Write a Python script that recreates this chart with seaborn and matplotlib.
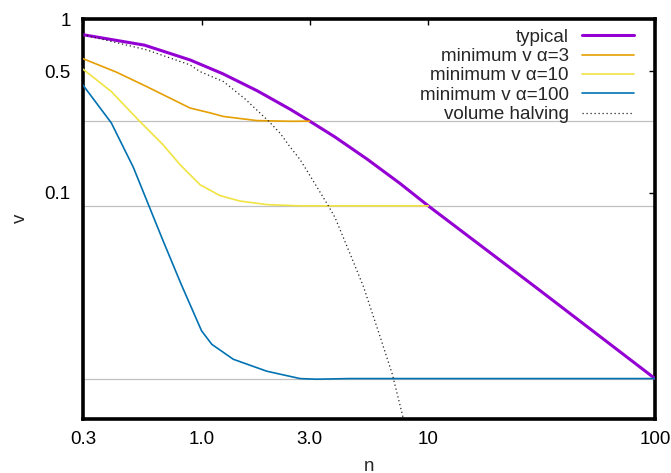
import matplotlib
matplotlib.use("Agg")
import matplotlib.pyplot as plt
import seaborn as sns
import pandas as pd

# ---------------- data ----------------
n_typical = [0.3, 0.56, 0.89, 1.24, 1.76, 2.46, 3.0, 3.88, 5.37, 7.5, 10, 30, 100]
v_typical = [0.812, 0.707, 0.581, 0.484, 0.386, 0.302, 0.258, 0.209, 0.156, 0.113,
             0.0839, 0.0283, 0.00849]

n_alpha3 = [0.3, 0.42, 0.573, 0.89, 1.09, 1.25, 1.75, 2.46, 3.0]
v_alpha3 = [0.591, 0.495, 0.408, 0.307, 0.288, 0.2745, 0.260, 0.2575, 0.258]

n_alpha10 = [0.3, 0.4, 0.525, 0.676, 0.804, 0.985, 1.206, 1.478, 1.94, 2.72, 10]
v_alpha10 = [0.514, 0.382, 0.263, 0.1888, 0.1448, 0.111, 0.0961, 0.0894, 0.0853,
             0.0839, 0.0839]

n_alpha100 = [0.3, 0.4, 0.5, 0.673, 0.81, 1.0, 1.11, 1.38, 1.94, 2.72, 3.22, 4.5, 100]
v_alpha100 = [0.416, 0.252, 0.140, 0.0537, 0.030, 0.0160, 0.01337, 0.01097, 0.00936,
              0.00849, 0.00842, 0.00849, 0.00849]

n_halving = [0.3, 0.573, 0.89, 0.984, 1.25, 1.555, 1.97, 2.22, 2.46, 2.72, 3.0, 3.62,
             3.88, 4.5, 5.17, 6.12, 6.94, 7.71, 8.0]
v_halving = [0.812, 0.664, 0.544, 0.498, 0.436, 0.3465, 0.259, 0.220, 0.183, 0.155,
             0.126, 0.0842, 0.0718, 0.045, 0.0289, 0.0149, 0.0090, 0.00518, 0.0042]

alphas = [3, 10, 100]
# horizontal reference levels: typical v at n = alpha
floor_levels = [v_typical[n_typical.index(a)] for a in alphas]

x_ticks = [0.3, 1, 3, 10, 100]
x_ticklabels = ["0.3", "1.0", "3.0", "10", "100"]
y_ticks = [1, 0.5, 0.1]
y_ticklabels = ["1", "0.5", "0.1"]

labels = ["typical", "minimum v \u03b1=3", "minimum v \u03b1=10",
          "minimum v \u03b1=100", "volume halving"]

# ---------------- style ----------------
sns.set_theme(style="white")
plt.rcParams["font.family"] = ["Liberation Sans", "DejaVu Sans"]
plt.rcParams["font.size"] = 13.5
plt.rcParams["axes.linewidth"] = 2.6

fig = plt.figure(figsize=(6.71, 4.73), dpi=100)
ax = fig.add_axes([83 / 671, 1 - 418.5 / 473, 572 / 671, 399.5 / 473])

# reference levels
for lv in floor_levels:
    ax.axhline(lv, color="#c0c0c0", lw=0.9, zorder=1)

series = [
    (n_typical, v_typical, "#9400d3", 2.2, "-"),
    (n_alpha3, v_alpha3, "#e69f00", 1.2, "-"),
    (n_alpha10, v_alpha10, "#f0e442", 1.2, "-"),
    (n_alpha100, v_alpha100, "#0072b2", 1.2, "-"),
    (n_halving, v_halving, "#222222", 0.9, (0, (1, 2.2))),
]
for (xs, ys, col, lw, ls), lab in zip(series, labels):
    df = pd.DataFrame({"n": xs, "v": ys})
    sns.lineplot(data=df, x="n", y="v", ax=ax, color=col, linewidth=lw,
                 linestyle=ls, sort=False, estimator=None, label=lab, zorder=3)

ax.set_xscale("log")
ax.set_yscale("log")
ax.set_xlim(0.3, 100)
ax.set_ylim(0.005, 1)
ax.set_xticks(x_ticks)
ax.set_xticklabels(x_ticklabels)
ax.set_yticks(y_ticks)
ax.set_yticklabels(y_ticklabels)
ax.minorticks_off()
ax.tick_params(axis="both", which="major", direction="in", length=4.5, width=1.0,
               top=True, right=True, labelsize=13.5, pad=9, color="black",
               labelcolor="black")
for sp in ax.spines.values():
    sp.set_color("black")
    sp.set_linewidth(2.6)

ax.set_xlabel("n", fontsize=13.5, va="top")
ax.xaxis.set_label_coords(0.5, -0.099)
ax.set_ylabel("v", fontsize=13.5, va="center")
ax.yaxis.set_label_coords(-0.11, 0.5)

leg = ax.legend(loc="upper right", bbox_to_anchor=(0.9633, 0.976), frameon=False,
                markerfirst=False, handlelength=2.79, handletextpad=0.68,
                labelspacing=0.12, borderpad=0, borderaxespad=0, fontsize=13.5)
for t in leg.get_texts():
    t.set_ha("right")
# right-align texts inside the legend
leg._legend_box.align = "right"

fig.savefig("out.png", dpi=100)
